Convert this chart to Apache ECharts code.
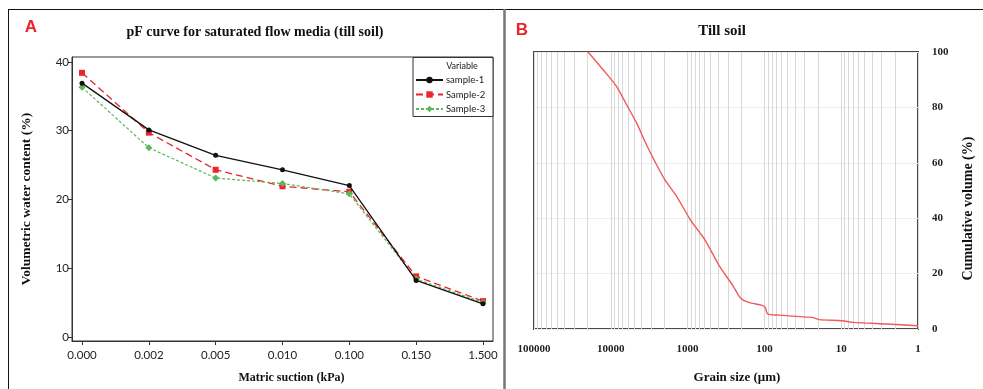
<!DOCTYPE html>
<html>
<head>
<meta charset="utf-8">
<script src="https://cdn.jsdelivr.net/npm/echarts@6/dist/echarts.min.js"></script>
<style>
  html, body { margin: 0; padding: 0; background: #fff; }
  #chart { width: 983px; height: 389px; }
</style>
</head>
<body>
<div id="chart"></div>
<script>
// Panel A: water retention (pF) curves, one value per matric suction step
const suctionLabels = ['0.000', '0.002', '0.005', '0.010', '0.100', '0.150', '1.500'];
const sample1 = [36.9, 30.1, 26.4, 24.3, 22.0, 8.2, 4.8];
const sample2 = [38.4, 29.7, 24.3, 21.9, 21.1, 8.8, 5.2];
const sample3 = [36.3, 27.5, 23.1, 22.3, 20.8, 8.4, 5.0];
const waterTicks = [0, 10, 20, 30, 40];

// Panel B: cumulative grain size distribution (size in µm, cumulative %)
const grainSize = [19800, 12600, 8430, 6240, 4620, 3430, 2670, 1980, 1390, 933, 692, 594,
  382, 254, 205, 160, 107, 97, 91, 65, 29, 24, 19.4, 9.7, 7.2, 2.6, 1];
const cumulative = [100, 93.6, 87.6, 81.0, 74.4, 66.5, 60.5, 53.9, 47.9, 39.7, 34.7, 32.2,
  22.6, 15.4, 11.2, 9.6, 8.5, 7.6, 5.5, 5.0, 4.3, 4.2, 3.4, 3.0, 2.4, 1.8, 1.2];
const volumeTicks = [0, 20, 40, 60, 80, 100];
const grainDecades = [1, 10, 100, 1000, 10000];

// Log-paper guide lines: 2..9 within each decade
const logGuides = [];
grainDecades.forEach(d => { for (let k = 2; k <= 9; k++) logGuides.push(k * d); });

const serif = '"Liberation Serif", "DejaVu Serif", serif';
const sans = 'Lato, "Liberation Sans", sans-serif';

const chart = echarts.init(document.getElementById('chart'), null, { renderer: 'canvas' });

const leftIdx = suctionLabels.map((_, i) => i);

chart.setOption({
  animation: false,
  backgroundColor: '#fff',
  graphic: [
    // panel frames
    { type: 'line', shape: { x1: 8, y1: 9.5, x2: 983, y2: 9.5 }, style: { stroke: '#111', lineWidth: 1 } },
    { type: 'line', shape: { x1: 8.5, y1: 9, x2: 8.5, y2: 389 }, style: { stroke: '#111', lineWidth: 1 } },
    { type: 'line', shape: { x1: 504.5, y1: 9, x2: 504.5, y2: 389 }, style: { stroke: '#777', lineWidth: 2.5 } },
    // panel letters and titles
    { type: 'text', x: 31, y: 27, style: { text: 'A', fill: '#e8262c', font: 'bold 17px "Liberation Sans", sans-serif', align: 'center', verticalAlign: 'middle' } },
    { type: 'text', x: 522, y: 30, style: { text: 'B', fill: '#e8262c', font: 'bold 17px "Liberation Sans", sans-serif', align: 'center', verticalAlign: 'middle' } },
    { type: 'text', x: 255, y: 32, style: { text: 'pF curve for saturated flow media (till soil)', fill: '#111', font: 'bold 14px ' + serif, align: 'center', verticalAlign: 'middle' } },
    { type: 'text', x: 722, y: 31, style: { text: 'Till soil', fill: '#111', font: 'bold 15px ' + serif, align: 'center', verticalAlign: 'middle' } },
    // legend box and heading
    { type: 'rect', shape: { x: 413, y: 57.5, width: 80, height: 59 }, style: { fill: '#fff', stroke: '#333', lineWidth: 1 }, z: 5 },
    { type: 'text', x: 462, y: 66, style: { text: 'Variable', fill: '#222', font: '9px ' + sans, align: 'center', verticalAlign: 'middle' }, z: 6 }
  ],
  legend: {
    data: ['sample-1', 'Sample-2', 'Sample-3'],
    orient: 'vertical',
    left: 415,
    top: 75,
    padding: 0,
    itemWidth: 27,
    itemHeight: 8,
    itemGap: 4.5,
    z: 7,
    textStyle: { fontFamily: sans, fontSize: 9.5, color: '#222', padding: [0, 0, 0, -2] }
  },
  grid: [
    { left: 72, top: 57, right: 490, bottom: 48, show: true, borderColor: '#333', borderWidth: 1, backgroundColor: 'transparent' },
    { left: 534, top: 52, right: 65, bottom: 60, show: true, borderColor: '#4a4a4a', borderWidth: 2, backgroundColor: 'transparent' }
  ],
  xAxis: [
    {
      gridIndex: 0,
      type: 'value',
      min: -0.15,
      max: 6.15,
      name: 'Matric suction (kPa)',
      nameLocation: 'middle',
      nameGap: 31,
      nameTextStyle: { fontFamily: serif, fontWeight: 'bold', fontSize: 12, color: '#111', padding: [0, 0, 0, 18] },
      axisLine: { show: true, onZero: false, lineStyle: { color: '#333', width: 1 } },
      axisTick: { show: true, length: 4, customValues: leftIdx, lineStyle: { color: '#333' } },
      axisLabel: { customValues: leftIdx, formatter: v => suctionLabels[Math.round(v)] || '', fontFamily: sans, fontSize: 11.5, color: '#222', margin: 8 },
      splitLine: { show: false }
    },
    {
      gridIndex: 1,
      type: 'log',
      logBase: 10,
      min: 1,
      max: 100000,
      inverse: true,
      name: 'Grain size (\u03bcm)',
      nameLocation: 'middle',
      nameGap: 42,
      nameTextStyle: { fontFamily: serif, fontWeight: 'bold', fontSize: 13, color: '#111', padding: [0, 0, 0, 22] },
      axisLine: { show: false, onZero: false },
      axisTick: { show: false },
      axisLabel: { fontFamily: serif, fontWeight: 'bold', fontSize: 11, color: '#222', margin: 15, formatter: v => String(v) },
      splitLine: { show: true, lineStyle: { color: '#d8d8d8', width: 1 } }
    }
  ],
  yAxis: [
    {
      gridIndex: 0,
      type: 'value',
      min: -0.6,
      max: 40.7,
      name: 'Volumetric water content (%)',
      nameLocation: 'middle',
      nameGap: 38,
      nameTextStyle: { fontFamily: serif, fontWeight: 'bold', fontSize: 13.5, color: '#111' },
      axisLine: { show: true, onZero: false, lineStyle: { color: '#333', width: 1 } },
      axisTick: { show: true, length: 4, customValues: waterTicks, lineStyle: { color: '#333' } },
      axisLabel: { customValues: waterTicks, fontFamily: sans, fontSize: 11.5, color: '#222', margin: 3 },
      splitLine: { show: false }
    },
    {
      gridIndex: 1,
      type: 'value',
      position: 'right',
      min: 0,
      max: 100,
      interval: 20,
      name: 'Cumulative volume (%)',
      nameLocation: 'middle',
      nameGap: 43,
      nameTextStyle: { fontFamily: serif, fontWeight: 'bold', fontSize: 14, color: '#111', padding: [0, 36, 0, 0] },
      axisLine: { show: false, onZero: false },
      axisTick: { show: false },
      axisLabel: { fontFamily: serif, fontWeight: 'bold', fontSize: 11, color: '#222', margin: 14 },
      splitLine: { show: true, lineStyle: { color: '#eeeeee', width: 1 } }
    }
  ],
  series: [
    {
      name: 'sample-1', type: 'line', xAxisIndex: 0, yAxisIndex: 0,
      data: sample1.map((v, i) => [i, v]),
      symbol: 'circle', symbolSize: 5,
      lineStyle: { color: '#111', width: 1.3, type: 'solid' },
      itemStyle: { color: '#111' }, z: 4
    },
    {
      name: 'Sample-2', type: 'line', xAxisIndex: 0, yAxisIndex: 0,
      data: sample2.map((v, i) => [i, v]),
      symbol: 'rect', symbolSize: 6,
      lineStyle: { color: '#e8262c', width: 1.3, type: [7, 4] },
      itemStyle: { color: '#e8262c' }, z: 3
    },
    {
      name: 'Sample-3', type: 'line', xAxisIndex: 0, yAxisIndex: 0,
      data: sample3.map((v, i) => [i, v]),
      symbol: 'diamond', symbolSize: 7,
      lineStyle: { color: '#5cb85c', width: 1.2, type: [3, 2] },
      itemStyle: { color: '#5cb85c' }, z: 3
    },
    {
      // light log-paper rulings behind the distribution curve
      name: 'guides', type: 'line', xAxisIndex: 1, yAxisIndex: 1,
      data: [], silent: true, z: 1,
      markLine: {
        silent: true,
        symbol: ['none', 'none'],
        label: { show: false },
        lineStyle: { color: '#d8d8d8', width: 1, type: 'solid' },
        emphasis: { disabled: true },
        data: logGuides.map(v => ({ xAxis: v }))
      }
    },
    {
      name: 'Till soil', type: 'line', xAxisIndex: 1, yAxisIndex: 1,
      data: grainSize.map((s, i) => [s, cumulative[i]]),
      showSymbol: false, smooth: 0.25,
      lineStyle: { color: '#f05a5a', width: 1.4 }, z: 5
    }
  ]
});
</script>
</body>
</html>
